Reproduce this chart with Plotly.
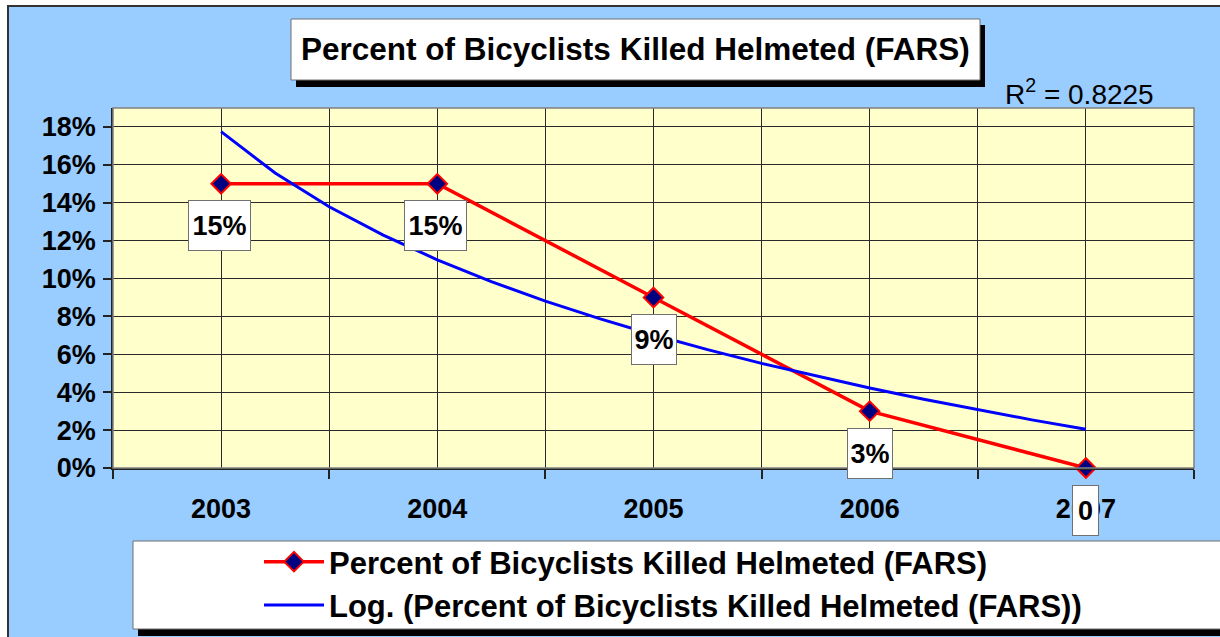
import plotly.graph_objects as go

# ---- data ----
years = [2003, 2004, 2005, 2006, 2007]
pct_helmeted = [15, 15, 9, 3, 0]
label_text = ["15%", "15%", "9%", "3%", "0"]
trend_x = [2003, 2003.25, 2003.5, 2003.75, 2004, 2004.25, 2004.5, 2004.75, 2005,
           2005.25, 2005.5, 2005.75, 2006, 2006.25, 2006.5, 2006.75, 2007]
trend_y = [17.75, 15.57, 13.79, 12.29, 10.99, 9.84, 8.81, 7.88, 7.03,
           6.25, 5.52, 4.85, 4.22, 3.63, 3.07, 2.54, 2.04]
y_ticks = [0, 2, 4, 6, 8, 10, 12, 14, 16, 18]
y_tick_text = ["0%", "2%", "4%", "6%", "8%", "10%", "12%", "14%", "16%", "18%"]
title_text = "Percent of Bicyclists Killed Helmeted (FARS)"
series_name = "Percent of Bicyclists Killed Helmeted (FARS)"
trend_name = "Log. (Percent of Bicyclists Killed Helmeted (FARS))"
r2_text = "R<sup>2</sup> = 0.8225"

# ---- layout geometry (pixels) ----
W, H = 1220, 637
L, R, T, B = 113, 26, 108, 169
PW, PH = W - L - R, H - T - B


def px(x):
    return (x - L) / PW


def py(y):
    return (H - B - y) / PH


FONT = "Liberation Sans, Arial, sans-serif"
BLUE_BG = "#99CCFF"
YELLOW = "#FFFFCC"
GRID = "#2a2a2a"

fig = go.Figure()

fig.add_trace(go.Scatter(
    x=years, y=pct_helmeted, mode="lines+markers", name=series_name,
    line=dict(color="#FF0000", width=3.5),
    marker=dict(symbol="diamond", size=15, color="#000080",
                line=dict(color="#FF0000", width=2)),
    cliponaxis=False,
))
fig.add_trace(go.Scatter(
    x=trend_x, y=trend_y, mode="lines", name=trend_name,
    line=dict(color="#0000FF", width=3),
))

shapes = []
# white frame outside the chart area + dark border
shapes.append(dict(type="rect", xref="paper", yref="paper", layer="below",
                   x0=px(-5), x1=px(8), y0=py(H + 5), y1=py(-5),
                   fillcolor="white", line=dict(width=0)))
shapes.append(dict(type="rect", xref="paper", yref="paper", layer="below",
                   x0=px(-5), x1=px(W + 5), y0=py(6), y1=py(-5),
                   fillcolor="white", line=dict(width=0)))
shapes.append(dict(type="rect", xref="paper", yref="paper", layer="below",
                   x0=px(8), x1=px(W + 10), y0=py(H + 10), y1=py(6),
                   fillcolor="rgba(0,0,0,0)", line=dict(color="#333333", width=2)))
# plot frame
shapes.append(dict(type="rect", xref="paper", yref="paper", layer="above",
                   x0=0, x1=1, y0=0, y1=1,
                   fillcolor="rgba(0,0,0,0)", line=dict(color="#808080", width=1.5)))
# title box with shadow
shapes.append(dict(type="rect", xref="paper", yref="paper",
                   x0=px(296), x1=px(985), y0=py(87), y1=py(25),
                   fillcolor="black", line=dict(width=0)))
shapes.append(dict(type="rect", xref="paper", yref="paper",
                   x0=px(291), x1=px(980), y0=py(80), y1=py(19),
                   fillcolor="white", line=dict(color="#707070", width=1)))
# legend box with shadow
shapes.append(dict(type="rect", xref="paper", yref="paper",
                   x0=px(138), x1=px(W + 10), y0=py(636), y1=py(547),
                   fillcolor="black", line=dict(width=0)))
shapes.append(dict(type="rect", xref="paper", yref="paper",
                   x0=px(133), x1=px(W + 10), y0=py(629), y1=py(541),
                   fillcolor="white", line=dict(color="#707070", width=1)))

annotations = []
annotations.append(dict(xref="paper", yref="paper", x=px(635), y=py(49),
                        text=title_text, showarrow=False,
                        xanchor="center", yanchor="middle",
                        font=dict(family=FONT, size=31.5, color="black", weight="bold")))
annotations.append(dict(xref="paper", yref="paper", x=px(1003), y=py(92),
                        text=r2_text, showarrow=False,
                        xanchor="left", yanchor="middle",
                        font=dict(family=FONT, size=28, color="black")))
for xv, yv, t in zip(years, pct_helmeted, label_text):
    w = 59 if len(t) == 3 else (42 if len(t) == 2 else 23)
    annotations.append(dict(x=xv, y=yv, xref="x", yref="y", text=t,
                            showarrow=False, yshift=-42,
                            xshift=-1.5 if t == "15%" else 0,
                            width=w, height=47, borderpad=1, borderwidth=1,
                            bgcolor="white", bordercolor="#707070",
                            xanchor="center", yanchor="middle",
                            font=dict(family=FONT, size=27, color="black", weight="bold")))

fig.update_layout(
    width=W, height=H,
    margin=dict(l=L, r=R, t=T, b=B, pad=0, autoexpand=False),
    paper_bgcolor=BLUE_BG, plot_bgcolor=YELLOW,
    shapes=shapes, annotations=annotations,
    showlegend=True,
    legend=dict(x=px(259), y=py(535), xanchor="left", yanchor="top",
                bgcolor="rgba(0,0,0,0)", borderwidth=0,
                font=dict(family=FONT, size=31, color="black", weight="bold"),
                itemwidth=60, tracegroupgap=0),
    xaxis=dict(range=[2002.5, 2007.5], tickvals=years,
               ticktext=[str(y) for y in years],
               showgrid=True, gridcolor=GRID, gridwidth=1,
               ticks="", showline=True, linecolor="#222222", linewidth=1.5,
               zeroline=False, ticklabelstandoff=16,
               tickfont=dict(family=FONT, size=27, color="black", weight="bold"),
               minor=dict(tickvals=[2002.5, 2003.5, 2004.5, 2005.5, 2006.5, 2007.5],
                          showgrid=True, gridcolor=GRID, gridwidth=1,
                          ticks="outside", ticklen=9, tickcolor="#222222", tickwidth=1.5)),
    yaxis=dict(range=[0, 19], tickvals=y_ticks, ticktext=y_tick_text,
               showgrid=True, gridcolor=GRID, gridwidth=1,
               ticks="outside", ticklen=8, tickcolor="#222222", tickwidth=1.5,
               showline=True, linecolor="#222222", linewidth=1.5,
               zeroline=False, ticklabelstandoff=2,
               tickfont=dict(family=FONT, size=27, color="black", weight="bold")),
)

fig.write_html("out.html", config={"displayModeBar": False},
               post_script="document.body.style.margin='0';"
                           "document.body.style.overflow='hidden';")
